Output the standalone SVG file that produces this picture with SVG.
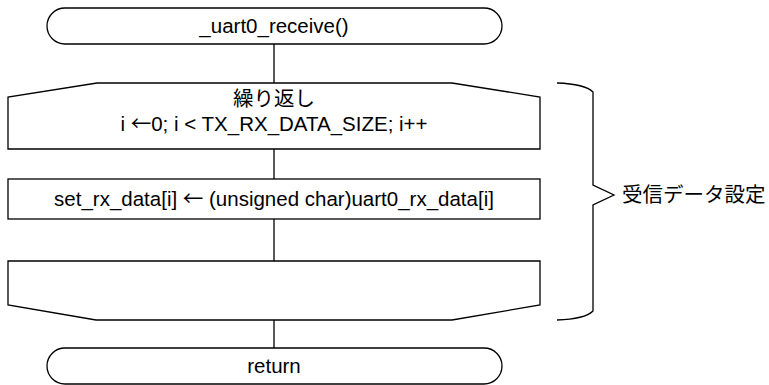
<svg xmlns="http://www.w3.org/2000/svg" width="769" height="385" viewBox="0 0 769 385">
<style>
.s{fill:#fff;stroke:#000;stroke-width:1.3}
.l{fill:none;stroke:#000;stroke-width:1.3}
text{font-family:"Liberation Sans",Arial,"Noto Sans CJK JP",sans-serif;font-size:20.5px;fill:#000;text-anchor:middle}
.a{font-family:"Noto Sans CJK JP",sans-serif}
</style>
<rect width="769" height="385" fill="#fff"/>
<g id="connectors">
<line class="l" x1="274" y1="44" x2="274" y2="83"/>
<line class="l" x1="274" y1="149" x2="274" y2="179"/>
<line class="l" x1="274" y1="219" x2="274" y2="261"/>
<line class="l" x1="274" y1="320" x2="274" y2="348"/>
</g>
<g id="start">
<rect class="s" x="47" y="8" width="455" height="36" rx="18" ry="18"/>
<text x="274" y="33">_uart0_receive()</text>
</g>
<g id="loop-start">
<path class="s" d="M97,83 H452 L540,97 V149 H8 V97 Z"/>
<text x="274" y="106">繰り返し</text>
<text x="274" y="131">i <tspan class="a">←</tspan>0; i &lt; TX_RX_DATA_SIZE; i++</text>
</g>
<g id="process">
<rect class="s" x="8" y="179" width="532" height="40"/>
<text x="274" y="206">set_rx_data[i] <tspan class="a">←</tspan> (unsigned char)uart0_rx_data[i]</text>
</g>
<g id="loop-end">
<path class="s" d="M8,261 H540 V305 L452,320 H96 L8,305 Z"/>
</g>
<g id="end">
<rect class="s" x="47" y="348" width="455" height="36" rx="18" ry="18"/>
<text x="274" y="373">return</text>
</g>
<g id="brace">
<path class="l" d="M557,83 Q585,84 593,92 V185 L614,195 L593,205 V311 Q585,319 557,320"/>
<text x="622" y="202" style="text-anchor:start">受信データ設定</text>
</g>
</svg>
